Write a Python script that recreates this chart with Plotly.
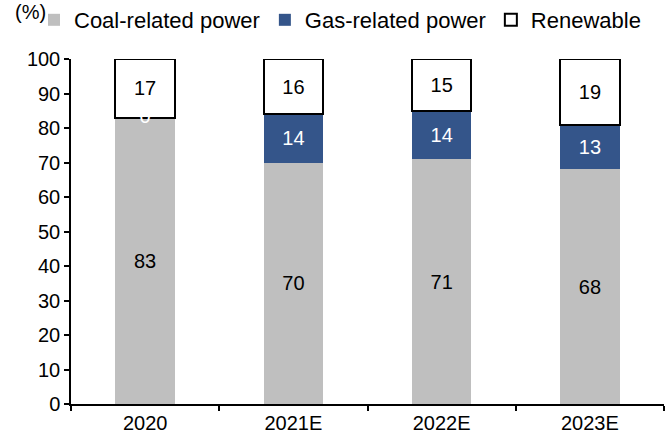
import plotly.graph_objects as go

categories = ["2020", "2021E", "2022E", "2023E"]
coal = [83, 70, 71, 68]
gas = [0, 14, 14, 13]
renewable = [17, 16, 15, 19]
y_ticks = list(range(0, 101, 10))

FONT = "Liberation Sans, Arial, sans-serif"
FS = 20
LFS = 22

fig = go.Figure()
fig.add_trace(go.Bar(
    name="Coal-related power", x=categories, y=coal,
    marker=dict(color="#BFBFBF", line=dict(width=0)),
    text=[str(v) for v in coal], textposition="inside", insidetextanchor="middle",
    textangle=0, constraintext="none",
    textfont=dict(color="black", size=FS, family=FONT),
))
fig.add_trace(go.Bar(
    name="Gas-related power", x=categories, y=gas,
    marker=dict(color="#34558A", line=dict(width=0)),
    text=[str(v) for v in gas], textposition="inside", insidetextanchor="middle",
    textangle=0, constraintext="none",
    textfont=dict(color="white", size=FS, family=FONT),
))
fig.add_trace(go.Bar(
    name="Renewable", x=categories, y=renewable,
    marker=dict(color="white", line=dict(color="black", width=2)),
    text=[str(v) for v in renewable], textposition="inside", insidetextanchor="middle",
    textangle=0, constraintext="none",
    textfont=dict(color="black", size=FS, family=FONT),
))

# zero-valued gas label (visible in the reference for 2020)
zero_idx = [i for i, v in enumerate(gas) if v == 0]
fig.add_trace(go.Scatter(
    x=[categories[i] for i in zero_idx],
    y=[coal[i] + gas[i] for i in zero_idx],
    mode="text", text=[str(gas[i]) for i in zero_idx],
    textposition="middle center",
    textfont=dict(color="white", size=FS, family=FONT),
    showlegend=False, hoverinfo="skip",
))

fig.update_layout(
    barmode="stack",
    bargap=0.6,
    width=670, height=442,
    margin=dict(l=71, r=6, t=59, b=38, autoexpand=False),
    paper_bgcolor="white", plot_bgcolor="white",
    font=dict(family=FONT, size=FS, color="black"),
    showlegend=True,
    legend=dict(
        orientation="h", x=-0.0624, xanchor="left", y=1.113, yanchor="middle",
        font=dict(size=LFS, family=FONT, color="black"),
        itemwidth=30, traceorder="normal",
        bgcolor="rgba(0,0,0,0)",
    ),
    annotations=[dict(
        text="(%)", xref="paper", yref="paper", x=-0.0978, y=1.136,
        xanchor="left", yanchor="middle", showarrow=False,
        font=dict(size=20, family=FONT, color="black"),
    )],
    hovermode=False,
)
fig.update_xaxes(
    showline=True, linecolor="black", linewidth=1.5,
    ticks="outside", tickson="boundaries", ticklen=5, tickwidth=1.5, tickcolor="black",
    showgrid=False, tickfont=dict(size=FS, family=FONT, color="black"),
)
fig.update_yaxes(
    range=[0, 100], tickvals=y_ticks,
    showline=True, linecolor="black", linewidth=1.5,
    ticks="outside", ticklen=5, tickwidth=1.5, tickcolor="black",
    showgrid=False, zeroline=False,
    tickfont=dict(size=FS, family=FONT, color="black"),
)

fig.write_html(
    "out.html",
    config={"displayModeBar": False},
    post_script="document.body.style.margin='0';document.body.style.padding='0';",
)
